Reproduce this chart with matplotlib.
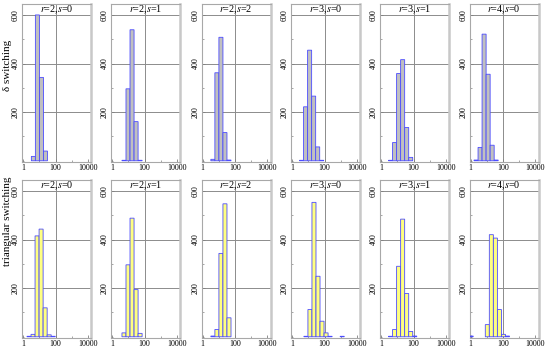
import numpy as np
import matplotlib.pyplot as plt
from matplotlib.ticker import FixedLocator, MultipleLocator, NullFormatter

plt.rcParams['font.family'] = ['Liberation Serif', 'DejaVu Serif']
plt.rcParams['mathtext.fontset'] = 'stix'

# panel titles (r, s)
titles = [(2, 0), (2, 1), (2, 2), (3, 0), (3, 1), (4, 0)]
row_labels = ['δ switching', 'triangular switching']

# histogram bins: log10 of first edge for each panel, common log10 width
bin_width = 0.25
delta_start = [0.5, 0.6, 0.5, 0.45, 0.45, 0.2]
delta_counts = [
    [18, 600, 343, 40],
    [2, 296, 539, 161, 2],
    [6, 362, 508, 116, 3],
    [2, 222, 455, 266, 57, 2],
    [2, 75, 359, 416, 137, 14],
    [3, 55, 521, 356, 64, 3],
]
tri_start = [0.23, 0.6, 0.5, 0.72, 0.45, -0.1]
tri_counts = [
    [2, 10, 415, 443, 119, 8, 2],
    [16, 296, 488, 194, 14],
    [3, 30, 343, 547, 78],
    [2, 112, 553, 249, 64, 16, 2, 0, 0, 2],
    [2, 30, 290, 484, 178, 22, 3],
    [3, 0, 0, 0, 50, 420, 406, 112, 10, 3],
]

W, H = 550, 351
fig = plt.figure(figsize=(W / 100, H / 100), dpi=100)

col_left = [22, 111, 201.5, 291, 380, 469.5]
panel_w = 69
row_top = [4, 180]
panel_h = 157.5

fills = ['#c0c0c0', '#ffff80']
edge = '#4b4bff'

for row, (starts, counts_all) in enumerate([(delta_start, delta_counts),
                                             (tri_start, tri_counts)]):
    for col in range(6):
        ax = fig.add_axes([col_left[col] / W, 1 - (row_top[row] + panel_h) / H,
                           panel_w / W, panel_h / H])
        counts = np.array(counts_all[col], dtype=float)
        edges = 10 ** (starts[col] + bin_width * np.arange(len(counts) + 1))
        keep = counts > 0
        bars = ax.bar(edges[:-1][keep], counts[keep], width=np.diff(edges)[keep],
                      align='edge', color=fills[row], edgecolor=edge,
                      linewidth=0.6, zorder=3)
        for b in bars:
            b.set_snap(False)

        ax.set_xscale('log')
        ax.set_xlim(10 ** -0.08, 10 ** 4.2)
        ax.set_ylim(-3, 645)

        ax.xaxis.set_major_locator(FixedLocator([1, 100, 10000]))
        ax.set_xticklabels(['1', '100', '10000'])
        ax.xaxis.set_minor_locator(FixedLocator([10, 1000]))
        ax.xaxis.set_minor_formatter(NullFormatter())
        ax.yaxis.set_major_locator(FixedLocator([200, 400, 600]))
        ax.yaxis.set_minor_locator(MultipleLocator(100))
        for lab in ax.get_yticklabels():
            lab.set_rotation(90)
            lab.set_va('center')

        ax.tick_params(which='both', direction='in', color='#808080',
                       labelsize=5.8, pad=1.5)
        ax.tick_params(which='major', length=2.5, width=0.6)
        ax.tick_params(which='minor', length=1.5, width=0.5)

        for y in [200, 400, 600]:
            ax.axhline(y, color='#8c8c8c', lw=0.7, zorder=1)
        ax.axvline(100, color='#8c8c8c', lw=0.7, zorder=1)

        for side in ['left', 'top', 'bottom']:
            ax.spines[side].set_color('#a8a8a8')
            ax.spines[side].set_linewidth(0.8)
        ax.spines['right'].set_color('#c8c8c8')
        ax.spines['right'].set_linewidth(1.8)

        r, s = titles[col]
        ax.text(0.5, 623, r'$r$=%d,$s$=%d' % (r, s), transform=ax.get_yaxis_transform(),
                ha='center', va='center', fontsize=7.3, zorder=4)

fig.text(7.5 / W, 1 - 65 / H, row_labels[0], rotation=90, ha='center',
         va='center', fontsize=8)
fig.text(7.5 / W, 1 - 221 / H, row_labels[1], rotation=90, ha='center',
         va='center', fontsize=8)

fig.savefig('out.png', dpi=100)
